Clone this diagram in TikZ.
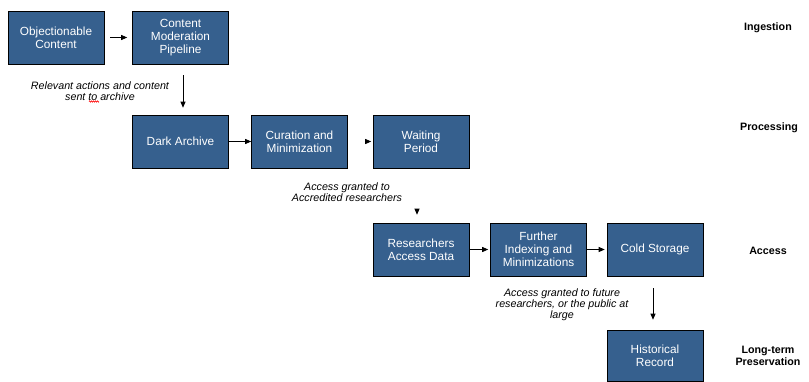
\documentclass[tikz,border=0pt]{standalone}
\usepackage{fontspec}
\setmainfont{Liberation Sans}
\usetikzlibrary{arrows.meta,decorations.pathmorphing}
\definecolor{boxblue}{RGB}{54,96,142}
\begin{document}
\begin{tikzpicture}[x=1pt,y=-1pt,
 box/.style={draw=black,line width=0.6pt,fill=boxblue,text=white,minimum width=96pt,minimum height=53pt,align=center,font=\fontsize{11.8}{13}\selectfont,inner sep=2pt},
 arr/.style={line width=0.8pt,-{Triangle[length=6pt,width=5pt]}},
 note/.style={align=center,font=\itshape\fontsize{10.7}{11}\selectfont},
 stage/.style={align=center,font=\bfseries\fontsize{10.7}{12}\selectfont}]
\useasboundingbox (0,0) rectangle (809,381);
% boxes
\node[box] (obj) at (56,37.5) {Objectionable\\Content};
\node[box] (cmp) at (180.5,37.5) {Content\\Moderation\\Pipeline};
\node[box] (dark) at (180.5,141.5) {Dark Archive};
\node[box] (cur) at (299.5,141.5) {Curation and\\Minimization};
\node[box] (wait) at (421,141.5) {Waiting\\Period};
\node[box] (res) at (421,249.5) {Researchers\\Access Data};
\node[box] (fur) at (538.5,249.5) {Further\\Indexing and\\Minimizations};
\node[box] (cold) at (655,249.5) {Cold Storage};
\node[box,minimum height=51pt] (hist) at (655,355.5) {Historical\\Record};
% arrows
\draw[arr,shorten <=6pt,shorten >=5pt] (obj) -- (cmp);
\draw[arr,shorten <=11pt,shorten >=7pt] ([xshift=2.5pt]cmp.south) -- ([xshift=2.5pt]dark.north);
\draw[arr] (dark) -- (cur);
\draw[arr,shorten <=19pt,shorten >=1.5pt] (cur) -- (wait);
\draw[arr,shorten <=41pt,shorten >=8pt] ([xshift=-4pt]wait.south) -- ([xshift=-4pt]res.north);
\draw[arr,shorten >=2pt] (res) -- (fur);
\draw[arr,shorten >=2pt] (fur) -- (cold);
\draw[arr,shorten <=12pt,shorten >=10pt] ([xshift=-2pt]cold.south) -- ([xshift=-2pt]hist.north);
% notes
\node[note] (n1) at (100,91.5) {Relevant actions and content\\sent to archive};
\node[note] (n2) at (347,192.5) {Access granted to\\Accredited researchers};
\node[note] (n3) at (562,305) {Access granted to future\\researchers, or the public at\\large};
\draw[red,line width=0.5pt,decorate,decoration={zigzag,amplitude=0.7pt,segment length=2pt}] (89,101.5) -- (99,101.5);
% stages
\node[stage] (s1) at (768,28) {Ingestion};
\node[stage] (s2) at (769,128) {Processing};
\node[stage] (s3) at (768,251) {Access};
\node[stage] (s4) at (768,356) {Long-term\\Preservation};
\end{tikzpicture}
\end{document}
